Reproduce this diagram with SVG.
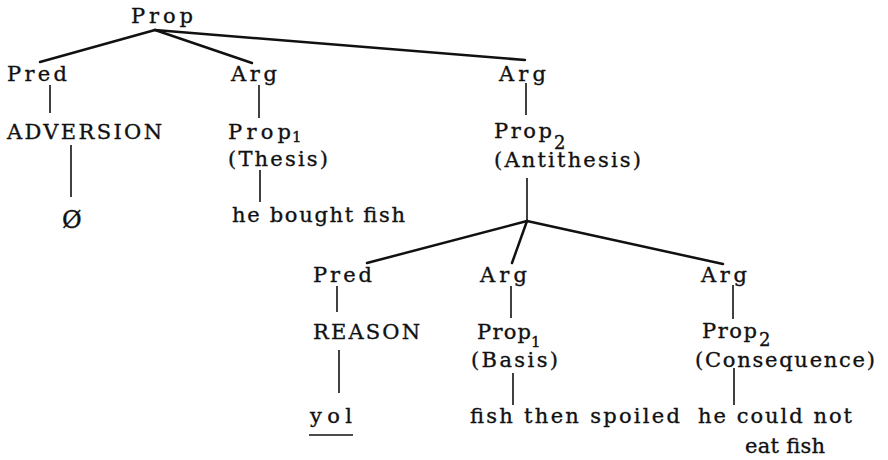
<svg xmlns="http://www.w3.org/2000/svg" width="888" height="460" viewBox="0 0 888 460">
<style>
text{font-family:"DejaVu Serif","Liberation Serif",serif;font-size:21px;fill:#111;stroke:#111;stroke-width:0.35}
.sub{font-size:15px}
.br{stroke:#111;stroke-width:2.5;fill:none;stroke-linecap:round}
.vt{stroke:#111;stroke-width:1.6;fill:none}
</style>
<rect width="888" height="460" fill="#fff"/>
<g id="connectors">
<line class="br" x1="155" y1="30" x2="40" y2="62"/>
<line class="br" x1="155" y1="30" x2="252" y2="63"/>
<line class="br" x1="155" y1="30" x2="525" y2="60"/>
<line class="vt" x1="50" y1="85" x2="50" y2="113"/>
<line class="vt" x1="259" y1="85" x2="259" y2="118"/>
<line class="vt" x1="526" y1="83" x2="526" y2="115"/>
<line class="vt" x1="71" y1="145" x2="71" y2="197"/>
<line class="vt" x1="260" y1="170" x2="260" y2="202"/>
<line class="vt" x1="527" y1="178" x2="527" y2="221"/>
<line class="br" x1="527" y1="221" x2="367" y2="263"/>
<line class="br" x1="527" y1="221" x2="512" y2="263"/>
<line class="br" x1="527" y1="221" x2="723" y2="264"/>
<line class="vt" x1="337" y1="286" x2="337" y2="312"/>
<line class="vt" x1="511" y1="286" x2="511" y2="318"/>
<line class="vt" x1="733" y1="285" x2="733" y2="319"/>
<line class="vt" x1="339" y1="350" x2="339" y2="393"/>
<line class="vt" x1="513" y1="373" x2="513" y2="405"/>
<line class="vt" x1="734" y1="368" x2="734" y2="405"/>
</g>
<g id="root"><text x="131" y="23" textLength="62" lengthAdjust="spacing">Prop</text></g>
<g id="pred1"><text x="7" y="81" textLength="60" lengthAdjust="spacing">Pred</text></g>
<g id="arg1"><text x="231" y="81" textLength="46" lengthAdjust="spacing">Arg</text></g>
<g id="arg2"><text x="499" y="81" textLength="47" lengthAdjust="spacing">Arg</text></g>
<g id="adversion"><text x="7" y="139" textLength="155" lengthAdjust="spacing">ADVERSION</text></g>
<g id="prop1-thesis">
<text x="228" y="139" textLength="63" lengthAdjust="spacing">Prop</text>
<text class="sub" x="292" y="142">1</text>
<text x="228" y="166" textLength="100" lengthAdjust="spacing">(Thesis)</text>
</g>
<g id="prop2-antithesis">
<text x="494" y="138" textLength="58" lengthAdjust="spacing">Prop</text>
<text class="sub" x="554" y="149" style="font-size:18px">2</text>
<text x="494" y="167" textLength="147" lengthAdjust="spacing">(Antithesis)</text>
</g>
<g id="null"><text x="62" y="228" style="font-size:24px">Ø</text></g>
<g id="he-bought-fish"><text x="232" y="222" textLength="173" lengthAdjust="spacing">he bought fish</text></g>
<g id="pred2"><text x="313" y="282" textLength="59" lengthAdjust="spacing">Pred</text></g>
<g id="arg3"><text x="480" y="282" textLength="47" lengthAdjust="spacing">Arg</text></g>
<g id="arg4"><text x="701" y="282" textLength="46" lengthAdjust="spacing">Arg</text></g>
<g id="reason"><text x="313" y="339" textLength="107" lengthAdjust="spacing">REASON</text></g>
<g id="prop1-basis">
<text x="477" y="339" textLength="54" lengthAdjust="spacing">Prop</text>
<text class="sub" x="531" y="347">1</text>
<text x="471" y="367" textLength="87" lengthAdjust="spacing">(Basis)</text>
</g>
<g id="prop2-consequence">
<text x="702" y="338" textLength="55" lengthAdjust="spacing">Prop</text>
<text class="sub" x="759" y="346" style="font-size:18px">2</text>
<text x="695" y="367" textLength="180" lengthAdjust="spacing">(Consequence)</text>
</g>
<g id="yol">
<text x="310" y="423" textLength="42" lengthAdjust="spacing">yol</text>
<line class="vt" x1="309" y1="435" x2="353" y2="435"/>
</g>
<g id="fish-then-spoiled"><text x="470" y="423" textLength="210" lengthAdjust="spacing">fish then spoiled</text></g>
<g id="he-could-not-eat-fish">
<text x="698" y="423" textLength="154" lengthAdjust="spacing">he could not</text>
<text x="745" y="453" textLength="80" lengthAdjust="spacing">eat fish</text>
</g>
</svg>
